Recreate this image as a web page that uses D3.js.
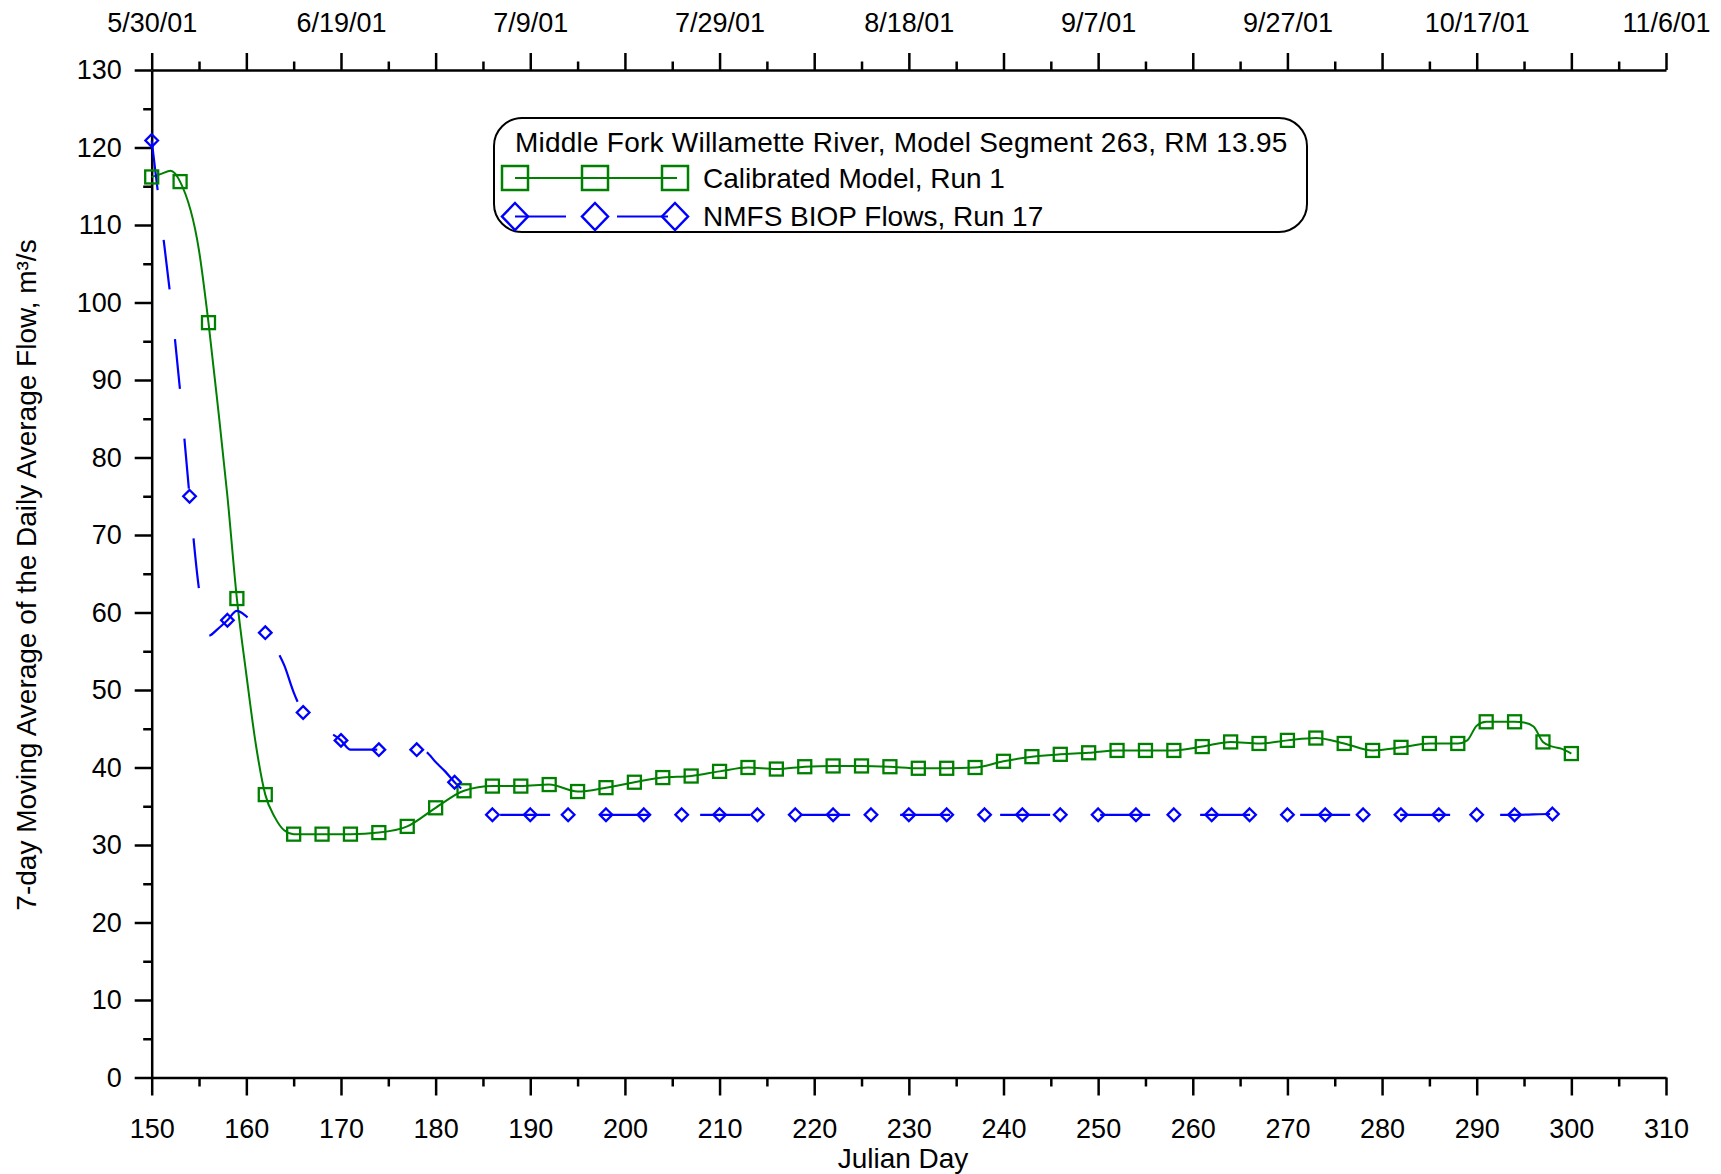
<!DOCTYPE html>
<html><head><meta charset="utf-8">
<script src="https://cdn.jsdelivr.net/npm/d3@7"></script>
<style>
html,body{margin:0;padding:0;background:#fff;}
svg{display:block;background:#fff;}
text{font-family:"Liberation Sans", Arial, Helvetica, sans-serif;fill:#000;}
</style></head><body>
<svg id="chart" width="1721" height="1174"></svg>
<script>
// ---- Data ----
const calDays = [150,153,156,159,162,165,168,171,174,177,180,183,186,189,192,195,198,201,204,207,210,213,216,219,222,225,228,231,234,237,240,243,246,249,252,255,258,261,264,267,270,273,276,279,282,285,288,291,294,297,300];
const calFlow = [116.2,115.6,97.4,61.8,36.5,31.4,31.4,31.4,31.6,32.4,34.8,37.0,37.6,37.6,37.8,36.9,37.4,38.1,38.7,38.9,39.5,40.0,39.8,40.1,40.2,40.2,40.1,39.9,39.9,40.0,40.8,41.4,41.7,41.9,42.2,42.2,42.2,42.7,43.3,43.1,43.5,43.8,43.1,42.2,42.6,43.1,43.1,45.9,45.9,43.3,41.8];
// extra points
const calLineDays = [151,152,155,157,158,160,161,163,164,289,290,295,296,298,299];
const calLineFlow = [116.6,117.0,106.7,86.5,75.0,52.0,43.0,33.6,31.9,43.5,45.4,45.8,45.3,42.7,42.4];

const nmfsDays = [150,154,158,162,166,170,174,178,182,186,190,194,198,202,206,210,214,218,222,226,230,234,238,242,246,250,254,258,262,266,270,274,278,282,286,290,294,298];
const nmfsFlow = [120.9,75.0,59.0,57.4,47.1,43.5,42.3,42.3,38.1,33.9,33.9,33.9,33.9,33.9,33.9,33.9,33.9,33.9,33.9,33.9,33.9,33.9,33.9,33.9,33.9,33.9,33.9,33.9,33.9,33.9,33.9,33.9,33.9,33.9,33.9,33.9,33.9,34.0];
// extra points
const nmfsLineDays = [151,152,153,155,156,157,159,160,161,163,164,165,171,179,180,181,183,184,185,300];
const nmfsLineFlow = [110.7,100.5,88.6,63.0,57.0,57.9,60.2,59.5,58.4,55.6,53.2,49.7,42.3,42.0,40.7,39.5,36.9,35.3,34.2,33.9];

const xMajorTicks = [150,160,170,180,190,200,210,220,230,240,250,260,270,280,290,300,310];
const xMinorTicks = [155,165,175,185,195,205,215,225,235,245,255,265,275,285,295,305];
const yMajorTicks = [0,10,20,30,40,50,60,70,80,90,100,110,120,130];
const yMinorTicks = [5,15,25,35,45,55,65,75,85,95,105,115,125];
const dateTickDays = [150,170,190,210,230,250,270,290,310];
const dateTickLabels = ["5/30/01","6/19/01","7/9/01","7/29/01","8/18/01","9/7/01","9/27/01","10/17/01","11/6/01"];
const legendTitle = "Middle Fork Willamette River, Model Segment 263, RM 13.95";
const seriesNames = ["Calibrated Model, Run 1","NMFS BIOP Flows, Run 17"];
const xTitle = "Julian Day";
const yTitle = "7-day Moving Average of the Daily Average Flow, m\u00B3/s";

// ---- Chart ----
const svg = d3.select("#chart");
const x = d3.scaleLinear().domain([150,310]).range([151.7,1666]);
const y = d3.scaleLinear().domain([0,130]).range([1077.5,70]);
const GREEN = "#008000", BLUE = "#0000ff";

function styleAxis(g, fs){
  g.select(".domain").attr("stroke","#000").attr("stroke-width",2.5);
  g.selectAll(".tick line").attr("stroke","#000").attr("stroke-width",2.5);
  g.selectAll(".tick text").attr("font-size",fs).attr("fill","#000")
   .attr("font-family","'Liberation Sans', Arial, sans-serif");
}

// bottom
const gb = svg.append("g").attr("transform",`translate(0,${y(0)})`)
  .call(d3.axisBottom(x).tickValues(xMajorTicks).tickSize(18).tickSizeOuter(0).tickPadding(23).tickFormat(d3.format("d")));
styleAxis(gb,27);
const gbm = svg.append("g").attr("transform",`translate(0,${y(0)})`)
  .call(d3.axisBottom(x).tickValues(xMinorTicks).tickSize(9).tickSizeOuter(0).tickFormat(""));
styleAxis(gbm,27); gbm.select(".domain").remove();

// left
const gl = svg.append("g").attr("transform",`translate(${x(150)},0)`)
  .call(d3.axisLeft(y).tickValues(yMajorTicks).tickSize(17).tickSizeOuter(0).tickPadding(13).tickFormat(d3.format("d")));
styleAxis(gl,27);
const glm = svg.append("g").attr("transform",`translate(${x(150)},0)`)
  .call(d3.axisLeft(y).tickValues(yMinorTicks).tickSize(8.5).tickSizeOuter(0).tickFormat(""));
styleAxis(glm,27); glm.select(".domain").remove();

// top
const gt = svg.append("g").attr("transform",`translate(0,${y(130)})`)
  .call(d3.axisTop(x).tickValues(xMajorTicks).tickSize(17).tickSizeOuter(0).tickPadding(21)
    .tickFormat(d => { const i = dateTickDays.indexOf(d); return i >= 0 ? dateTickLabels[i] : ""; }));
styleAxis(gt,27);
const gtm = svg.append("g").attr("transform",`translate(0,${y(130)})`)
  .call(d3.axisTop(x).tickValues(xMinorTicks).tickSize(8.5).tickSizeOuter(0).tickFormat(""));
styleAxis(gtm,27); gtm.select(".domain").remove();

// titles
svg.append("text").attr("x",903).attr("y",1168).attr("text-anchor","middle").attr("font-size",28).text(xTitle);
svg.append("text").attr("transform","translate(36,575) rotate(-90)").attr("text-anchor","middle").attr("font-size",28).text(yTitle);

// series
function mergePts(d1,v1,d2,v2){
  const pts = d1.map((d,i)=>[d,v1[i]]).concat(d2.map((d,i)=>[d,v2[i]]));
  pts.sort((a,b)=>a[0]-b[0]);
  return pts;
}
const line = d3.line().x(d=>x(d[0])).y(d=>y(d[1])).curve(d3.curveMonotoneX);

const calPts = mergePts(calDays,calFlow,calLineDays,calLineFlow);
const nmfsPts = mergePts(nmfsDays,nmfsFlow,nmfsLineDays,nmfsLineFlow);

svg.append("path").datum(calPts).attr("d",line).attr("fill","none").attr("stroke",GREEN).attr("stroke-width",2);
svg.append("path").datum(nmfsPts).attr("d",line).attr("fill","none").attr("stroke",BLUE).attr("stroke-width",2.2).attr("stroke-dasharray","50,50");

const sq = 13;
svg.append("g").selectAll("rect").data(calDays.map((d,i)=>[d,calFlow[i]])).join("rect")
  .attr("x",d=>x(d[0])-sq/2).attr("y",d=>y(d[1])-sq/2).attr("width",sq).attr("height",sq)
  .attr("fill","none").attr("stroke",GREEN).attr("stroke-width",2.3);

function diamond(cx,cy,hw,hh){ return `M${cx},${cy-hh}L${cx+hw},${cy}L${cx},${cy+hh}L${cx-hw},${cy}Z`; }
svg.append("g").selectAll("path").data(nmfsDays.map((d,i)=>[d,nmfsFlow[i]])).join("path")
  .attr("d",d=>diamond(x(d[0]),y(d[1]),6.3,6.3))
  .attr("fill","none").attr("stroke",BLUE).attr("stroke-width",2.3);

// legend
const lg = svg.append("g");
lg.append("rect").attr("x",494).attr("y",118).attr("width",813).attr("height",114).attr("rx",28).attr("ry",28)
  .attr("fill","#fff").attr("stroke","#000").attr("stroke-width",2);
lg.append("text").attr("x",515).attr("y",151.5).attr("font-size",28).attr("letter-spacing",0.23).text(legendTitle);
const symX = [515,595,675];
lg.append("line").attr("x1",515).attr("x2",677).attr("y1",178).attr("y2",178).attr("stroke",GREEN).attr("stroke-width",2);
symX.forEach(cx => lg.append("rect").attr("x",cx-13).attr("y",178-12).attr("width",26).attr("height",24)
  .attr("fill","none").attr("stroke",GREEN).attr("stroke-width",2.5));
lg.append("text").attr("x",703).attr("y",187.5).attr("font-size",28).text(seriesNames[0]);
lg.append("line").attr("x1",515).attr("x2",676).attr("y1",216.5).attr("y2",216.5).attr("stroke",BLUE).attr("stroke-width",2.2).attr("stroke-dasharray","51,51");
symX.forEach(cx => lg.append("path").attr("d",diamond(cx,216.5,13,13.5))
  .attr("fill","none").attr("stroke",BLUE).attr("stroke-width",2.5));
lg.append("text").attr("x",703).attr("y",225.5).attr("font-size",28).text(seriesNames[1]);
</script>
</body></html>
